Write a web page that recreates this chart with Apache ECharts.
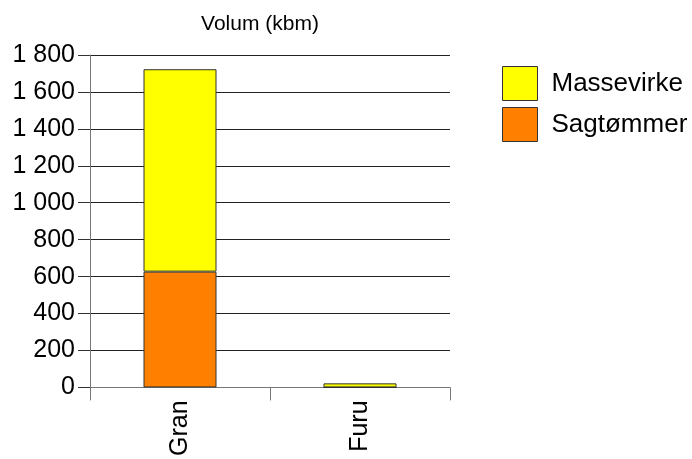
<!DOCTYPE html>
<html>
<head>
<meta charset="utf-8">
<script src="https://cdn.jsdelivr.net/npm/echarts@6/dist/echarts.min.js"></script>
<style>html,body{margin:0;padding:0;background:#fff}#c{width:692px;height:459px}</style>
</head>
<body>
<div id="c"></div>
<script>
const categories = ['Gran', 'Furu'];
const sagtommer = [627, 0];
const massevirke = [1096, 22];
const seriesNames = ['Massevirke', 'Sagtømmer'];
const yTicks = [0, 200, 400, 600, 800, 1000, 1200, 1400, 1600, 1800];

const FONT = '"Liberation Sans", Arial, sans-serif';
const chart = echarts.init(document.getElementById('c'), null, {renderer: 'canvas'});
chart.setOption({
  animation: false,
  backgroundColor: '#fff',
  title: {
    text: 'Volum (kbm)',
    left: 255, top: 9, textAlign: 'center',
    textStyle: {fontFamily: FONT, fontSize: 21, fontWeight: 'normal', color: '#000'}
  },
  legend: {
    data: seriesNames,
    orient: 'vertical',
    left: 497, top: 61,
    itemWidth: 35, itemHeight: 34, itemGap: 6,
    icon: 'rect',
    itemStyle: {borderColor: '#333', borderWidth: 1},
    textStyle: {fontFamily: FONT, fontSize: 26, color: '#000', padding: [0, 0, 0, 9]}
  },
  grid: {left: 90, right: 242, top: 55, bottom: 70, containLabel: false},
  xAxis: {
    type: 'category',
    data: categories,
    axisLine: {lineStyle: {color: '#777', width: 1}},
    axisTick: {show: true, length: 13, lineStyle: {color: '#777'}},
    axisLabel: {rotate: 90, margin: 13, fontFamily: FONT, fontSize: 25, color: '#000'}
  },
  yAxis: {
    type: 'value',
    min: 0, max: 1800, interval: 200,
    axisLine: {show: true, lineStyle: {color: '#777'}},
    axisTick: {show: true, length: 12, lineStyle: {color: '#333'}},
    splitLine: {show: true, lineStyle: {color: '#222', width: 1}},
    axisLabel: {
      margin: 15, fontFamily: FONT, fontSize: 25, color: '#000',
      formatter: v => yTicks.includes(v) ? String(v).replace(/\B(?=(\d{3})+(?!\d))/g, ' ') : ''
    }
  },
  series: [
    {
      name: 'Sagtømmer', type: 'bar', stack: 'v', data: sagtommer, barWidth: 73,
      itemStyle: {color: '#ff8000', borderColor: '#333', borderWidth: 1}
    },
    {
      name: 'Massevirke', type: 'bar', stack: 'v', data: massevirke, barWidth: 73,
      itemStyle: {color: '#ffff00', borderColor: '#333', borderWidth: 1}
    }
  ]
});
</script>
</body>
</html>
